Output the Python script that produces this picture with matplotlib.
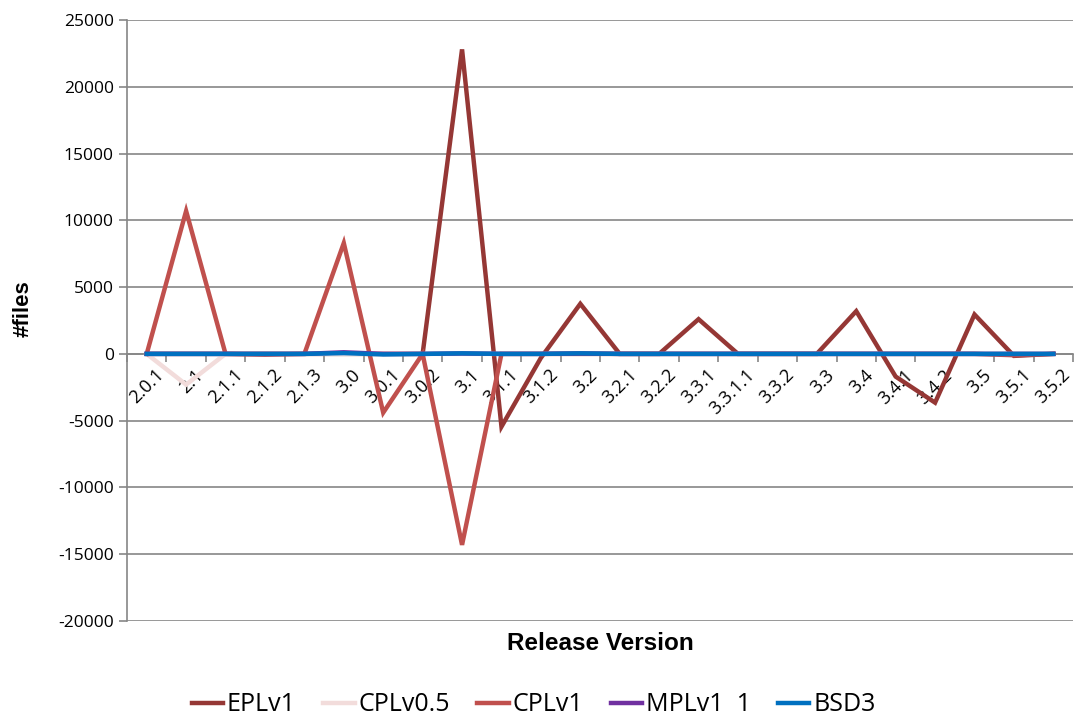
import matplotlib
matplotlib.use("Agg")
import matplotlib.pyplot as plt
import matplotlib.transforms as mtransforms
import numpy as np

versions = ["2.0.1", "2.1", "2.1.1", "2.1.2", "2.1.3", "3.0", "3.0.1", "3.0.2", "3.1", "3.1.1",
            "3.1.2", "3.2", "3.2.1", "3.2.2", "3.3.1", "3.3.1.1", "3.3.2", "3.3", "3.4", "3.4.1",
            "3.4.2", "3.5", "3.5.1", "3.5.2"]
epl_v1 = [0, 0, 0, 0, 0, 0, 0, 0, 22800, -5450, -300, 3750, 0, 0, 2600, 0, 0, 0, 3200, -1700,
          -3650, 2950, -150, 0]
cpl_v05 = [0, -2300, 0, 0, 0, 0, 0, 0, 0, 0, 0, 0, 0, 0, 0, 0, 0, 0, 0, 0, 0, 0, 0, 0]
cpl_v1 = [0, 10700, 0, -60, 0, 8300, -4400, 0, -14300, 0, 0, 0, 0, 0, 0, 0, 0, 0, 0, 0, 0, 0, -100, 0]
mpl_v1 = [0, 0, 0, 0, 0, 120, 0, 0, 30, 0, 0, 30, 0, 0, 0, 0, 0, 0, 0, 0, 0, 0, 0, 0]
bsd3 = [0, 0, 0, 0, 0, 60, -40, 0, 40, 0, 0, 40, 0, 0, 0, 0, 0, 0, 0, 0, 0, 0, 0, 0]
yticks = list(range(-20000, 25001, 5000))

series = [("EPLv1", epl_v1, "#953735"),
          ("CPLv0.5", cpl_v05, "#F2DCDB"),
          ("CPLv1", cpl_v1, "#C0504D"),
          ("MPLv1  1", mpl_v1, "#7030A0"),
          ("BSD3", bsd3, "#0070C0")]

plt.rcParams['font.family'] = ['Open Sans', 'DejaVu Sans']

fig = plt.figure(figsize=(10.78, 7.17), dpi=100)
ax = fig.add_axes([0.1178, 0.1339, 0.8776, 0.8382])

x = np.arange(len(versions))
for name, vals, col in series:
    ax.plot(x, vals, color=col, lw=3.2, label=name, solid_joinstyle='miter', zorder=3)

ax.set_xlim(-0.5, len(versions) - 0.5)
ax.set_ylim(-20000, 25000)
ax.set_yticks(yticks)
ax.set_yticklabels([str(v) for v in yticks], fontsize=12.5)
ax.yaxis.grid(True, color="#868686", lw=1.2)
ax.set_axisbelow(True)

ax.set_xticks(np.arange(len(versions) + 1) - 0.5)
ax.set_xticklabels([])
ax.tick_params(axis='x', which='major', length=6, color="#868686", width=1.2, direction='out')
ax.tick_params(axis='y', length=6, color="#868686", width=1.2, direction='out')

# category labels, rotated, placed under the zero line (drawn beneath the lines)
offset = mtransforms.ScaledTranslation(0.08, -0.12, fig.dpi_scale_trans)
for xi, lab in zip(x, versions):
    ax.text(xi, 0, lab, rotation=45, ha='right', va='top', rotation_mode='anchor',
            fontsize=13, transform=ax.transData + offset, zorder=1)

ax.spines['bottom'].set_position(('data', 0))
ax.spines['bottom'].set_color("#868686")
ax.spines['bottom'].set_linewidth(1.2)
ax.spines['left'].set_color("#868686")
ax.spines['left'].set_linewidth(1.2)
ax.spines['top'].set_visible(False)
ax.spines['right'].set_visible(False)

fig.text(0.557, 0.103, "Release Version", ha='center', va='center',
         fontsize=17.5, fontweight='bold', family=['Liberation Sans', 'DejaVu Sans'])
fig.text(0.021, 0.5 + 0.07, "#files", ha='center', va='center', rotation=90,
         fontsize=16, fontweight='bold', family=['Liberation Sans', 'DejaVu Sans'])

handles, labels = ax.get_legend_handles_labels()
fig.legend(handles, labels, loc='center', bbox_to_anchor=(0.495, 0.017), ncol=5,
           frameon=False, fontsize=18, handlelength=1.25, handletextpad=0.15,
           columnspacing=1.1)

fig.savefig("out.png", dpi=100)
